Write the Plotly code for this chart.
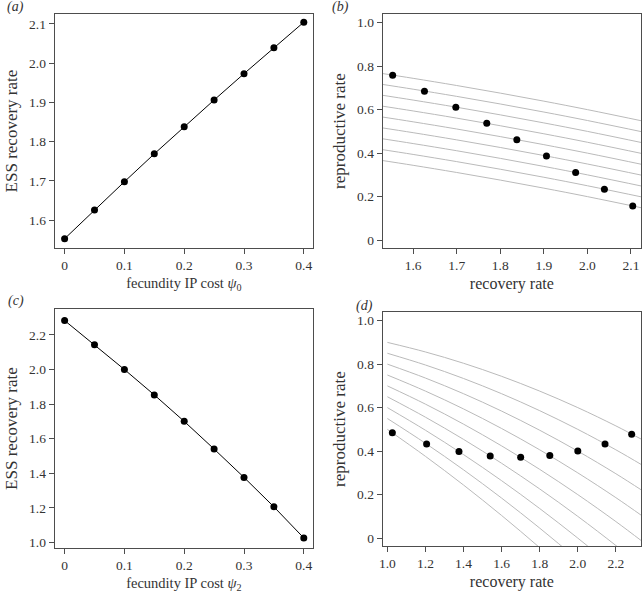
import plotly.graph_objects as go

# ---------------- data ----------------
psi = [0, 0.05, 0.1, 0.15, 0.2, 0.25, 0.3, 0.35, 0.4]

# panel (a): ESS recovery rate vs psi0
ess_a = [1.553, 1.626, 1.698, 1.769, 1.838, 1.906, 1.973, 2.039, 2.104]
# panel (b): reproductive rate at ESS
rep_b = [0.758, 0.685, 0.611, 0.537, 0.462, 0.387, 0.311, 0.234, 0.157]

# panel (c): ESS recovery rate vs psi2
ess_c = [2.283, 2.143, 2.000, 1.853, 1.700, 1.540, 1.376, 1.206, 1.026]
# panel (d): reproductive rate at ESS
rep_d = [0.478, 0.433, 0.400, 0.380, 0.372, 0.378, 0.398, 0.433, 0.484]

# trade-off curves in (b), read at these recovery rates
curve_b_x = [1.52, 1.6, 1.7, 1.8, 1.9, 2.0, 2.14]
curve_b_1 = [0.769, 0.744, 0.711, 0.676, 0.639, 0.600, 0.542]
curve_b_2 = [0.719, 0.694, 0.661, 0.626, 0.589, 0.550, 0.492]
curve_b_3 = [0.669, 0.644, 0.611, 0.576, 0.539, 0.500, 0.442]
curve_b_4 = [0.619, 0.594, 0.561, 0.526, 0.489, 0.450, 0.392]
curve_b_5 = [0.569, 0.544, 0.511, 0.476, 0.439, 0.400, 0.342]
curve_b_6 = [0.519, 0.494, 0.461, 0.426, 0.389, 0.350, 0.292]
curve_b_7 = [0.469, 0.444, 0.411, 0.376, 0.339, 0.300, 0.242]
curve_b_8 = [0.419, 0.394, 0.361, 0.326, 0.289, 0.250, 0.192]
curve_b_9 = [0.369, 0.344, 0.311, 0.276, 0.239, 0.200, 0.142]
curves_b = [curve_b_1, curve_b_2, curve_b_3, curve_b_4, curve_b_5,
            curve_b_6, curve_b_7, curve_b_8, curve_b_9]

# trade-off curves in (d), read at these recovery rates
curve_d_x = [1.0, 1.2, 1.4, 1.6, 1.8, 2.0, 2.2, 2.34]
curve_d_1 = [0.90, 0.856, 0.804, 0.744, 0.676, 0.60, 0.516, 0.452]
curve_d_2 = [0.85, 0.796, 0.734, 0.664, 0.586, 0.50, 0.406, 0.335]
curve_d_3 = [0.80, 0.736, 0.664, 0.584, 0.496, 0.40, 0.296, 0.218]
curve_d_4 = [0.75, 0.676, 0.594, 0.504, 0.406, 0.30, 0.186, 0.101]
curve_d_5 = [0.70, 0.616, 0.524, 0.424, 0.316, 0.20, 0.076, -0.016]
curve_d_6 = [0.65, 0.556, 0.454, 0.344, 0.226, 0.10, -0.034, -0.133]
curve_d_7 = [0.60, 0.496, 0.384, 0.264, 0.136, 0.00, -0.144, -0.250]
curve_d_8 = [0.55, 0.436, 0.314, 0.184, 0.046, -0.10, -0.254, -0.367]
curve_d_9 = [0.50, 0.376, 0.244, 0.104, -0.044, -0.20, -0.364, -0.484]
curves_d = [curve_d_1, curve_d_2, curve_d_3, curve_d_4, curve_d_5,
            curve_d_6, curve_d_7, curve_d_8, curve_d_9]

ticks_a_x = [0, 0.1, 0.2, 0.3, 0.4]
ticks_a_y = [1.6, 1.7, 1.8, 1.9, 2.0, 2.1]
ticks_b_x = [1.6, 1.7, 1.8, 1.9, 2.0, 2.1]
ticks_rep_y = [0, 0.2, 0.4, 0.6, 0.8, 1.0]
ticks_c_y = [1.0, 1.2, 1.4, 1.6, 1.8, 2.0, 2.2]
ticks_d_x = [1.0, 1.2, 1.4, 1.6, 1.8, 2.0, 2.2]


def fmt(v):
    return "0" if v == 0 else f"{v:.1f}"


# ---------------- figure ----------------
W, H = 642, 593
FONT = "Liberation Serif"
AX = "#4d4d4d"
TXT = "#333333"
GREY = "#bababa"

fig = go.Figure()

mk = dict(color="black", size=7)

# (a)
fig.add_trace(go.Scatter(x=psi, y=ess_a, mode="lines+markers",
                         line=dict(color="black", width=1), marker=mk,
                         xaxis="x", yaxis="y", showlegend=False))
# (b)
for c in curves_b:
    fig.add_trace(go.Scatter(x=curve_b_x, y=c, mode="lines",
                             line=dict(color=GREY, width=1, shape="spline"),
                             xaxis="x2", yaxis="y2", showlegend=False))
fig.add_trace(go.Scatter(x=ess_a, y=rep_b, mode="markers", marker=mk,
                         xaxis="x2", yaxis="y2", showlegend=False))
# (c)
fig.add_trace(go.Scatter(x=psi, y=ess_c, mode="lines+markers",
                         line=dict(color="black", width=1), marker=mk,
                         xaxis="x3", yaxis="y3", showlegend=False))
# (d)
for c in curves_d:
    fig.add_trace(go.Scatter(x=curve_d_x, y=c, mode="lines",
                             line=dict(color=GREY, width=1, shape="spline"),
                             xaxis="x4", yaxis="y4", showlegend=False))
fig.add_trace(go.Scatter(x=ess_c, y=rep_d, mode="markers", marker=mk,
                         xaxis="x4", yaxis="y4", showlegend=False))


def px_x(a, b):
    return [a / W, b / W]


def px_y(top, bottom):
    return [(H - bottom) / H, (H - top) / H]


def axis(domain, rng, tickvals, title, anchor, standoff, tsize):
    return dict(domain=domain, range=rng, tickmode="array", tickvals=tickvals,
                ticktext=[fmt(v) for v in tickvals],
                showline=True, mirror=True, linecolor=AX, linewidth=1,
                ticks="outside", ticklen=5, tickcolor=AX, tickwidth=1,
                showgrid=False, zeroline=False, anchor=anchor,
                tickfont=dict(family=FONT, size=13.5, color=TXT),
                title=dict(text=title, standoff=standoff,
                           font=dict(family=FONT, size=tsize, color=TXT)))


ytitle_ess = "ESS recovery rate"
ytitle_rep = "reproductive rate"
xtitle_rec = "recovery rate"

fig.update_layout(
    width=W, height=H, margin=dict(l=0, r=0, t=0, b=0),
    paper_bgcolor="white", plot_bgcolor="white",
    xaxis=axis(px_x(51, 311), [-0.0166, 0.4155], ticks_a_x,
               "fecundity IP cost <i>ψ</i><sub>0</sub>", "y", 5, 14.5),
    yaxis=axis(px_y(14, 249), [1.529, 2.125], ticks_a_y, ytitle_ess, "x", 7, 17),
    xaxis2=axis(px_x(381, 641), [1.53, 2.123], ticks_b_x, xtitle_rec, "y2", 5, 16),
    yaxis2=axis(px_y(14, 249), [-0.037, 1.04], ticks_rep_y, ytitle_rep, "x2", 7, 17),
    xaxis3=axis(px_x(51, 311), [-0.0166, 0.4155], ticks_a_x,
                "fecundity IP cost <i>ψ</i><sub>2</sub>", "y3", 5, 14.5),
    yaxis3=axis(px_y(310, 550), [0.967, 2.35], ticks_c_y, ytitle_ess, "x3", 7, 17),
    xaxis4=axis(px_x(381, 641), [0.975, 2.332], ticks_d_x, xtitle_rec, "y4", 5, 16),
    yaxis4=axis(px_y(313, 548), [-0.037, 1.04], ticks_rep_y, ytitle_rep, "x4", 7, 17),
)

labels = [("(a)", 1, 7), ("(b)", 328, 7), ("(c)", 2, 302), ("(d)", 352, 307)]
for txt, x, y in labels:
    fig.add_annotation(text=f"<i>{txt}</i>", xref="paper", yref="paper",
                       x=x / W, y=(H - y) / H, xanchor="left", yanchor="middle",
                       showarrow=False,
                       font=dict(family=FONT, size=14, color=TXT))

fig.write_html("out.html",
               config={"displayModeBar": False},
               post_script="document.body.style.margin='0';"
                           "document.body.style.overflow='hidden';")
